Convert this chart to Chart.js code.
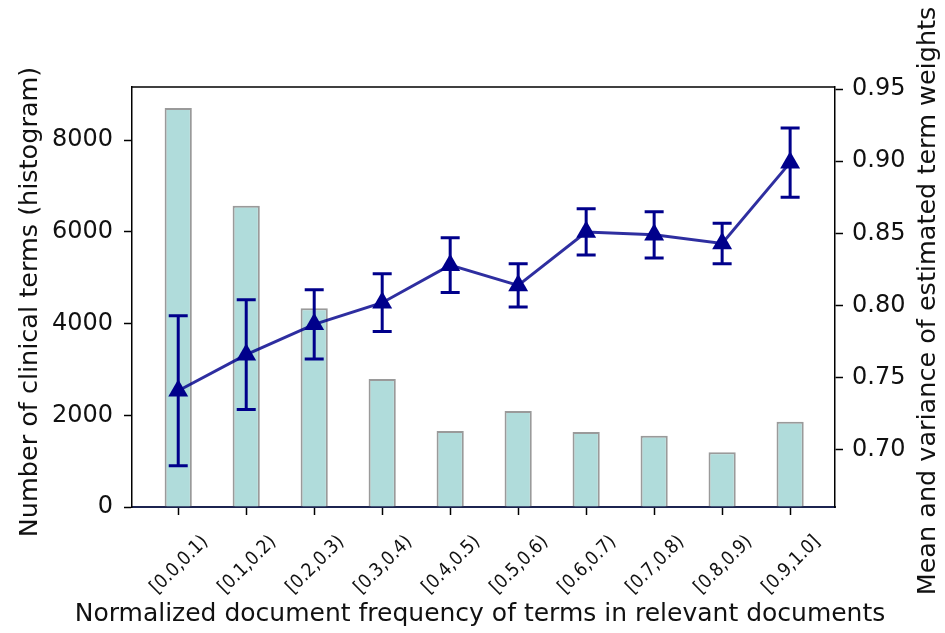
<!DOCTYPE html>
<html>
<head>
<meta charset="utf-8">
<script src="https://cdn.jsdelivr.net/npm/chart.js@4.4.1/dist/chart.umd.min.js"></script>
<style>
    body { margin: 0; background: #fff; }
    #wrap { width: 945px; height: 633px; }
</style>
</head>
<body>
<div id="wrap"><canvas id="termChart" width="945" height="633"></canvas></div>
<script>
// Histogram bins (normalized document frequency)
const categories = ['[0.0,0.1)', '[0.1,0.2)', '[0.2,0.3)', '[0.3,0.4)', '[0.4,0.5)',
                    '[0.5,0.6)', '[0.6,0.7)', '[0.7,0.8)', '[0.8,0.9)', '[0.9,1.0]'];

// Number of clinical terms per bin
const termCounts = [8700, 6570, 4335, 2790, 1660, 2095, 1635, 1555, 1195, 1860];

// Mean and spread of estimated term weights
const weightMeans = [0.741, 0.766, 0.787, 0.802, 0.828, 0.814, 0.851, 0.849, 0.843, 0.899];
const weightErrors = [0.052, 0.038, 0.024, 0.020, 0.019, 0.015, 0.016, 0.016, 0.014, 0.024];

// Tick labels
const countTicks = [0, 2000, 4000, 6000, 8000];
const weightTicks = [0.70, 0.75, 0.80, 0.85, 0.90, 0.95];

const xTitle = 'Normalized document frequency of terms in relevant documents';
const yTitle = 'Number of clinical terms (histogram)';
const y1Title = 'Mean and variance of estimated term weights';

const navy = '#00008b';
const tickFont = { family: 'DejaVu Sans', size: 24 };

// error bars, top frame and axis titles (chart.js would squeeze or flip them)
const extrasPlugin = {
    id: 'extras',
    afterDatasetsDraw(chart) {
        const ctx = chart.ctx;
        const xs = chart.scales.x;
        const ys = chart.scales.y1;
        ctx.save();
        ctx.strokeStyle = navy;
        ctx.lineWidth = 3;
        weightMeans.forEach((m, i) => {
            const px = xs.getPixelForValue(i);
            const top = ys.getPixelForValue(m + weightErrors[i]);
            const bot = ys.getPixelForValue(m - weightErrors[i]);
            ctx.beginPath();
            ctx.moveTo(px, top);
            ctx.lineTo(px, bot);
            ctx.moveTo(px - 9.5, top);
            ctx.lineTo(px + 9.5, top);
            ctx.moveTo(px - 9.5, bot);
            ctx.lineTo(px + 9.5, bot);
            ctx.stroke();
        });
        ctx.restore();
    },
    afterDraw(chart) {
        const ctx = chart.ctx;
        const area = chart.chartArea;
        const midY = (area.top + area.bottom) / 2;
        ctx.save();
        ctx.strokeStyle = '#000';
        ctx.lineWidth = 1.5;
        ctx.beginPath();
        ctx.moveTo(area.left, area.top);
        ctx.lineTo(area.right, area.top);
        ctx.stroke();

        ctx.fillStyle = '#111';
        ctx.textAlign = 'center';
        ctx.textBaseline = 'middle';
        ctx.font = '25px "DejaVu Sans"';
        ctx.fillText(xTitle, 480, 614);

        ctx.font = '25.5px "DejaVu Sans"';
        ctx.save();
        ctx.translate(30, midY + 5);
        ctx.rotate(-Math.PI / 2);
        ctx.fillText(yTitle, 0, 0);
        ctx.restore();

        ctx.translate(928, midY + 4);
        ctx.rotate(-Math.PI / 2);
        ctx.fillText(y1Title, 0, 0);
        ctx.restore();
    }
};

const ctx = document.getElementById('termChart').getContext('2d');
const termChart = new Chart(ctx, {
    data: {
        datasets: [
            {
                type: 'line',
                data: weightMeans.map((v, i) => ({ x: i, y: v })),
                yAxisID: 'y1',
                borderColor: 'rgba(0, 0, 139, 0.82)',
                borderWidth: 3,
                pointStyle: 'triangle',
                pointRadius: 11.5,
                pointBackgroundColor: navy,
                pointBorderWidth: 0,
                tension: 0,
                order: 0
            },
            {
                type: 'bar',
                data: termCounts.map((v, i) => ({ x: i, y: v })),
                yAxisID: 'y',
                backgroundColor: '#b0dcdb',
                borderColor: 'rgba(120, 120, 120, 0.75)',
                borderWidth: 2,
                categoryPercentage: 1,
                barPercentage: 0.4,
                order: 1
            }
        ]
    },
    options: {
        responsive: false,
        animation: false,
        layout: { padding: { top: 87, left: 0, right: 0, bottom: 0 } },
        plugins: {
            legend: { display: false },
            tooltip: { enabled: false }
        },
        scales: {
            x: {
                type: 'linear',
                offset: false,
                min: -0.68,
                max: 9.66,
                afterBuildTicks: (scale) => { scale.ticks = categories.map((c, i) => ({ value: i })); },
                afterFit: (scale) => { scale.height = 126; },
                grid: { offset: false, drawOnChartArea: false, drawTicks: true, tickLength: 8, tickColor: '#000', tickWidth: 1.5 },
                border: { display: true, color: '#1c2450', width: 2 },
                ticks: {
                    autoSkip: false,
                    minRotation: 45,
                    maxRotation: 45,
                    labelOffset: 27,
                    padding: 16,
                    color: '#111',
                    font: { family: 'DejaVu Sans Condensed', size: 19 },
                    callback: (value) => categories[value]
                },
                title: { display: false }
            },
            y: {
                position: 'left',
                min: 0,
                max: 9160,
                afterBuildTicks: (scale) => { scale.ticks = countTicks.map(v => ({ value: v })); },
                afterFit: (scale) => { scale.width = 132; },
                grid: { drawOnChartArea: false, drawTicks: true, tickLength: 8, tickColor: '#000', tickWidth: 1.5 },
                border: { display: true, color: '#000', width: 1.5 },
                ticks: { color: '#111', font: tickFont, padding: 11, callback: (value) => String(value) },
                title: { display: false }
            },
            y1: {
                position: 'right',
                min: 0.6605,
                max: 0.9514,
                afterBuildTicks: (scale) => { scale.ticks = weightTicks.map(v => ({ value: v })); },
                afterFit: (scale) => { scale.width = 110; },
                grid: { drawOnChartArea: false, drawTicks: true, tickLength: 8, tickColor: '#000', tickWidth: 1.5 },
                border: { display: true, color: '#000', width: 1.5 },
                ticks: {
                    color: '#111',
                    font: tickFont,
                    padding: 9,
                    callback: (value) => value.toFixed(2)
                }
            }
        }
    },
    plugins: [extrasPlugin]
});
</script>
</body>
</html>
